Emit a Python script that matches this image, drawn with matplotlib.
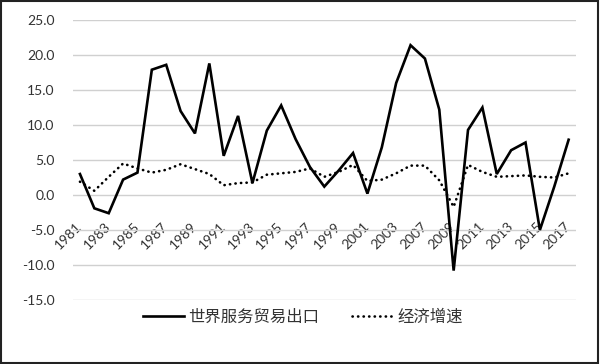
import matplotlib.pyplot as plt
from matplotlib.patches import Rectangle

plt.rcParams['font.family'] = ['Lato', 'Noto Sans CJK SC', 'DejaVu Sans']

# category labels (one year between 2003 and 2007 in the source)
years = ['1981', '1982', '1983', '1984', '1985', '1986', '1987', '1988', '1989',
         '1990', '1991', '1992', '1993', '1994', '1995', '1996', '1997', '1998',
         '1999', '2000', '2001', '2002', '2003', '2004', '2007', '2008', '2009',
         '2010', '2011', '2012', '2013', '2014', '2015', '2016', '2017']

# world services trade exports growth
export = [3.0, -1.9, -2.6, 2.2, 3.2, 17.9, 18.6, 12.0, 8.8, 18.8, 5.6, 11.3,
          1.7, 9.2, 12.8, 8.0, 4.0, 1.2, 3.5, 6.0, 0.2, 6.8, 16.0, 21.4, 19.5,
          12.2, -10.8, 9.3, 12.5, 3.0, 6.4, 7.5, -5.0, 1.2, 7.9]

# economic growth
growth = [1.9, 0.6, 2.6, 4.5, 3.8, 3.2, 3.6, 4.4, 3.7, 3.0, 1.4, 1.7, 1.8,
          2.9, 3.1, 3.3, 3.8, 2.6, 3.3, 4.3, 2.0, 2.2, 3.1, 4.2, 4.2, 2.1,
          -1.7, 4.3, 3.3, 2.6, 2.7, 2.8, 2.6, 2.5, 3.1]

fig = plt.figure(figsize=(6, 3.64), dpi=100)
ax = fig.add_axes([0.1213, 0.1758, 0.8384, 0.7692])

x = range(len(years))
l1, = ax.plot(x, export, color='black', lw=1.9, solid_joinstyle='miter',
              label='世界服务贸易出口')
l2, = ax.plot(x, growth, color='black', lw=1.9, linestyle=(0, (0.1, 2.0)),
              dash_capstyle='round', label='经济增速')

ax.set_xlim(-0.5, len(years) - 0.5)
ax.set_ylim(-15, 25)
ax.set_yticks(range(-15, 26, 5))
ax.set_yticklabels(['%.1f' % v for v in range(-15, 26, 5)])
ax.yaxis.grid(True, color='#d0d0d0', lw=1.0)
ax.set_axisbelow(True)

for s in ['top', 'right', 'left']:
    ax.spines[s].set_visible(False)
ax.spines['bottom'].set_position(('data', 0))
ax.spines['bottom'].set_visible(False)

ax.set_xticks(range(0, len(years), 2))
ax.set_xticklabels(years[::2], rotation=45, ha='right', va='center',
                   rotation_mode='anchor')
ax.tick_params(axis='x', length=0, pad=21, labelsize=10, labelcolor='#333333')
ax.tick_params(axis='y', length=0, pad=13, labelsize=10, labelcolor='#333333')

fig.legend(handles=[l1, l2], loc='center', bbox_to_anchor=(0.505, 0.129),
           ncol=2, frameon=False, handlelength=2.5,
           handletextpad=0.25, columnspacing=2.0, labelcolor='#333333',
           prop={'family': ['Noto Sans CJK SC'], 'size': 11.8, 'weight': 'light'})

fig.patches.append(Rectangle((0.002, 0.003), 0.995, 0.994, transform=fig.transFigure,
                             fill=False, edgecolor='#222222', lw=1.5))

fig.savefig('out.png', dpi=100)
